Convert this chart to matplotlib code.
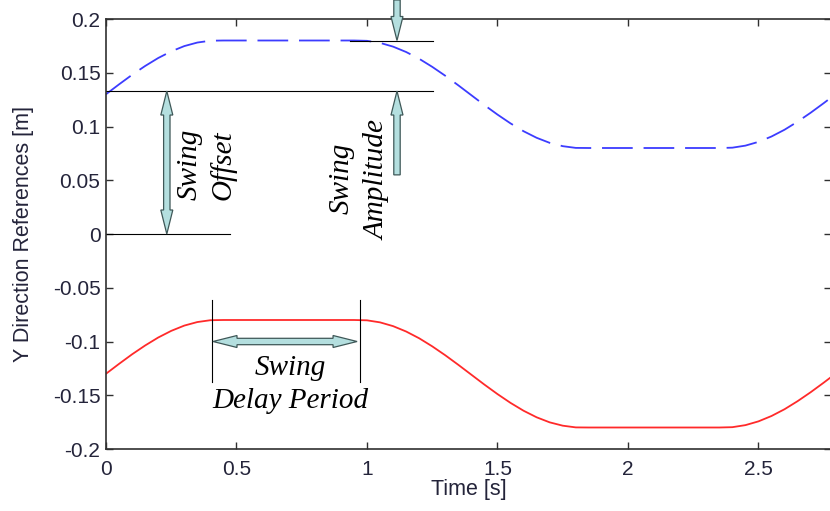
import numpy as np
import matplotlib
matplotlib.use("Agg")
import matplotlib.pyplot as plt
from matplotlib.patches import Polygon

# time grid of the samples [s]
time_s = np.round(np.arange(0, 2.801, 0.05), 2)

# swing reference, right leg (blue dashed)
y_upper = [0.1300, 0.1392, 0.1481, 0.1563, 0.1637, 0.1699, 0.1748, 0.1781, 0.1798,
           0.18, 0.18, 0.18, 0.18, 0.18, 0.18, 0.18, 0.18, 0.18, 0.18, 0.18,
           0.1797, 0.1778, 0.1743, 0.1693, 0.1630, 0.1555, 0.1472, 0.1383, 0.1291,
           0.1199, 0.1111, 0.1029, 0.0956, 0.0895, 0.0848, 0.0817, 0.0801,
           0.08, 0.08, 0.08, 0.08, 0.08, 0.08, 0.08, 0.08, 0.08, 0.08, 0.08,
           0.0803, 0.0822, 0.0857, 0.0907, 0.0970, 0.1045, 0.1128, 0.1217, 0.1309]

# swing reference, left leg (red solid)
y_lower = [-0.1300, -0.1208, -0.1119, -0.1037, -0.0963, -0.0901, -0.0852, -0.0819, -0.0802,
           -0.08, -0.08, -0.08, -0.08, -0.08, -0.08, -0.08, -0.08, -0.08, -0.08, -0.08,
           -0.0803, -0.0822, -0.0857, -0.0907, -0.0970, -0.1045, -0.1128, -0.1217, -0.1309,
           -0.1401, -0.1489, -0.1571, -0.1644, -0.1705, -0.1752, -0.1783, -0.1799,
           -0.18, -0.18, -0.18, -0.18, -0.18, -0.18, -0.18, -0.18, -0.18, -0.18, -0.18,
           -0.1797, -0.1778, -0.1743, -0.1693, -0.1630, -0.1555, -0.1472, -0.1383, -0.1291]

x_ticks = [0, 0.5, 1, 1.5, 2, 2.5]
x_tick_labels = ["0", "0.5", "1", "1.5", "2", "2.5"]
y_ticks = [-0.2, -0.15, -0.1, -0.05, 0, 0.05, 0.1, 0.15, 0.2]
y_tick_labels = ["-0.2", "-0.15", "-0.1", "-0.05", "0", "0.05", "0.1", "0.15", "0.2"]

# annotation levels
offset_level = 0.133
amplitude_level = 0.18
delay_start, delay_end = 0.408, 0.975

TEXT = "#24243a"
ARROW_FC = "#b4dfdf"
ARROW_EC = "#3f5858"

fig = plt.figure(figsize=(8.3, 5.11), dpi=100)
ax = fig.add_axes([106 / 830, 62 / 511, 725 / 830, 430 / 511])
ax.set_xlim(0, 2.778)
ax.set_ylim(-0.2, 0.2)

ax.plot(time_s, y_upper, color="#3c3cff", lw=1.3, dashes=(17, 6))
ax.plot(time_s, y_lower, color="#ff2a2a", lw=1.3)

ax.set_xticks(x_ticks)
ax.set_xticklabels(x_tick_labels)
ax.set_yticks(y_ticks)
ax.set_yticklabels(y_tick_labels)
ax.tick_params(direction="in", length=5, width=1, top=True, right=True,
               labelsize=15, labelcolor=TEXT, color="#303030")
ax.tick_params(axis="x", pad=8)
ax.tick_params(axis="y", pad=4)
for lbl in ax.get_xticklabels() + ax.get_yticklabels():
    lbl.set_fontfamily("Liberation Sans")
for sp in ax.spines.values():
    sp.set_linewidth(1.2)
    sp.set_color("#303030")

ax.set_xlabel("Time [s]", fontsize=15.5, family="Liberation Sans", color=TEXT)
ax.set_ylabel("Y Direction References [m]", fontsize=15.5, family="Liberation Sans", color=TEXT)
ax.xaxis.set_label_coords(0.5, -0.07)
ax.yaxis.set_label_coords(-0.1, 0.5)

# thin guide lines
ax.plot([0, 1.253], [offset_level, offset_level], color="black", lw=0.8)
ax.plot([0.935, 1.253], [amplitude_level, amplitude_level], color="black", lw=0.8)
ax.plot([0, 0.475], [0, 0], color="black", lw=0.8)
for xv in (delay_start, delay_end):
    ax.plot([xv, xv], [-0.061, -0.138], color="black", lw=0.8)


def fat_arrow(p, q, double=True, sw=3.2, hw=6.0, hl=24.0):
    """Fat outlined arrow from p to q (data coords), sizes in pixels."""
    P = ax.transData.transform(p)
    Q = ax.transData.transform(q)
    u = (Q - P) / np.hypot(*(Q - P))
    n = np.array([-u[1], u[0]])
    if double:
        pts = [P, P + u * hl + n * hw, P + u * hl + n * sw, Q - u * hl + n * sw,
               Q - u * hl + n * hw, Q, Q - u * hl - n * hw, Q - u * hl - n * sw,
               P + u * hl - n * sw, P + u * hl - n * hw]
    else:
        pts = [P + n * sw, Q - u * hl + n * sw, Q - u * hl + n * hw, Q,
               Q - u * hl - n * hw, Q - u * hl - n * sw, P - n * sw]
    pts = ax.transData.inverted().transform(np.array(pts))
    ax.add_patch(Polygon(pts, closed=True, fc=ARROW_FC, ec=ARROW_EC, lw=0.9,
                         clip_on=False, zorder=5))


fat_arrow((0.233, offset_level), (0.233, 0.0))
fat_arrow((1.115, 0.2177), (1.115, amplitude_level), double=False)
fat_arrow((1.115, 0.055), (1.115, offset_level), double=False)
fat_arrow((0.41, -0.1), (0.962, -0.1))

serif = dict(family="Liberation Serif", style="italic", fontsize=21, color="black",
             ha="center", va="center")
ax.text(0.322, 0.0647, "Swing", rotation=90, **serif)
ax.text(0.448, 0.064, "Offset", rotation=90, **serif)
ax.text(0.902, 0.052, "Swing", rotation=90, **serif)
ax.text(1.040, 0.050, "Amplitude", rotation=90, **serif)
ax.text(0.705, -0.1242, "Swing", **serif)
ax.text(0.705, -0.1553, "Delay Period", **serif)

fig.savefig("out.png", dpi=100)
